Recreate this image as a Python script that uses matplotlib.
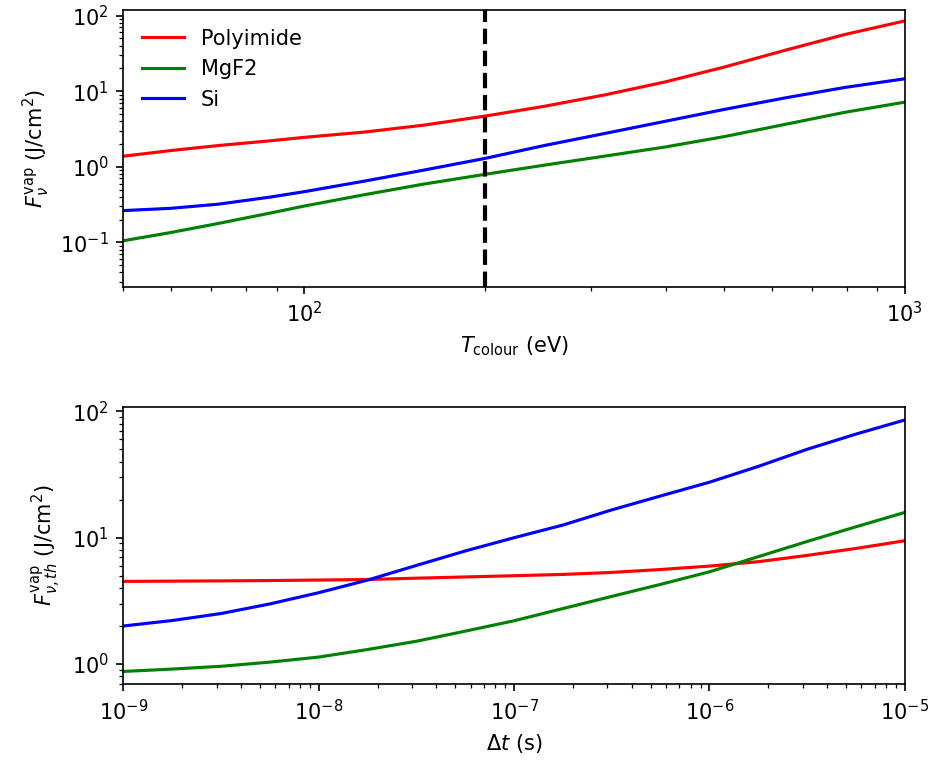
import matplotlib
matplotlib.use("Agg")
import matplotlib.pyplot as plt

# top panel: vaporisation fluence vs colour temperature
T_COLOUR = [50, 60, 72, 88, 100, 126, 158, 200, 251, 316, 398, 501, 631, 794, 1000]
POLYIMIDE_T = [1.38, 1.64, 1.91, 2.21, 2.45, 2.88, 3.55, 4.68, 6.31, 8.91, 13.2, 20.9, 34.7, 56.2, 85.1]
MGF2_T = [0.105, 0.135, 0.178, 0.245, 0.302, 0.427, 0.589, 0.794, 1.05, 1.38, 1.82, 2.51, 3.63, 5.25, 7.16]
SI_T = [0.263, 0.282, 0.320, 0.398, 0.468, 0.646, 0.902, 1.29, 1.91, 2.75, 3.98, 5.75, 8.13, 11.2, 14.6]
T_MARK = 200

# bottom panel: thermal vaporisation fluence vs pulse duration
DT = [1e-9, 1.78e-9, 3.16e-9, 5.62e-9, 1e-8, 1.78e-8, 3.16e-8, 5.62e-8, 1e-7,
      1.78e-7, 3.16e-7, 5.62e-7, 1e-6, 1.78e-6, 3.16e-6, 5.62e-6, 1e-5]
POLYIMIDE_DT = [4.51, 4.53, 4.55, 4.58, 4.62, 4.67, 4.78, 4.89, 5.0,
                5.12, 5.31, 5.60, 5.96, 6.46, 7.24, 8.22, 9.46]
MGF2_DT = [0.873, 0.912, 0.959, 1.035, 1.135, 1.303, 1.514, 1.82, 2.2,
           2.75, 3.43, 4.27, 5.37, 7.08, 9.33, 12.2, 15.85]
SI_DT = [2.0, 2.21, 2.51, 2.99, 3.67, 4.62, 6.03, 7.85, 10.0,
         12.6, 16.6, 21.4, 27.5, 36.7, 50.1, 66.1, 85.5]

LABELS = ["Polyimide", "MgF2", "Si"]
COLORS = ["r", "g", "b"]

DPI = 150
fig, (ax1, ax2) = plt.subplots(2, 1, figsize=(928 / DPI, 763 / DPI), dpi=DPI)
fig.subplots_adjust(left=0.133, right=0.975, top=0.987, bottom=0.1035, hspace=0.437)

# -------------------------
# Top: T_colour
# -------------------------
for y, label, c in zip([POLYIMIDE_T, MGF2_T, SI_T], LABELS, COLORS):
    ax1.plot(T_COLOUR, y, color=c, label=label)
ax1.axvline(T_MARK, color="k", linestyle="--", linewidth=2)
ax1.set_xscale("log")
ax1.set_yscale("log")
ax1.set_xlim(50, 1000)
ax1.set_ylim(0.026, 119)
ax1.set_xlabel(r"$T_{\rm colour}$ (eV)")
ax1.set_ylabel(r"$F_{\nu}^{\rm vap}$ (J/cm$^2$)")
ax1.legend(loc="upper left", frameon=False)

# -------------------------
# Bottom: pulse duration
# -------------------------
for y, label, c in zip([POLYIMIDE_DT, MGF2_DT, SI_DT], LABELS, COLORS):
    ax2.plot(DT, y, color=c, label=label)
ax2.set_xscale("log")
ax2.set_yscale("log")
ax2.set_xlim(1e-9, 1e-5)
ax2.set_xlabel(r"$\Delta t$ (s)")
ax2.set_ylabel(r"$F_{\nu,th}^{\rm vap}$ (J/cm$^2$)")

fig.savefig("out.png", dpi=DPI)
